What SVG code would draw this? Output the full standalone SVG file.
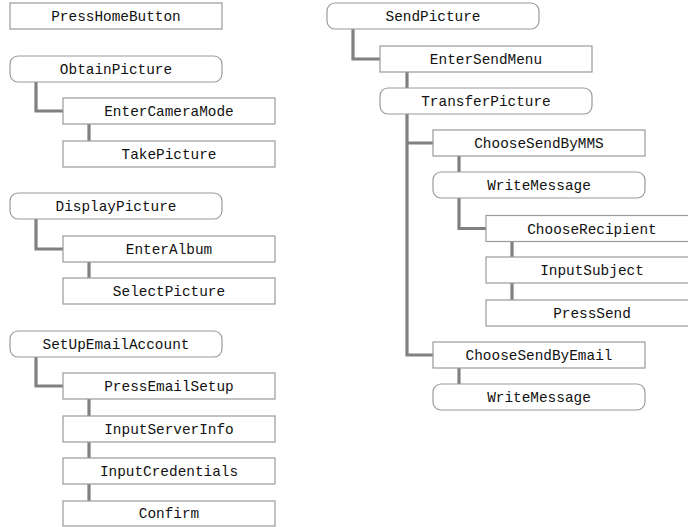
<svg xmlns="http://www.w3.org/2000/svg" width="688" height="527" viewBox="0 0 688 527">
<style>
.b{fill:#fff;stroke:#9a9a9a;stroke-width:1.2}
.t{font-family:"Courier New","Nimbus Mono PS","FreeMono","Liberation Mono","DejaVu Sans Mono",monospace;font-size:14.4px;fill:#111;text-anchor:middle}
.c{fill:none;stroke:#808080;stroke-width:3.2}
</style>
<rect width="688" height="527" fill="#fff"/>
<g id="connectors">
<path class="c" d="M36 82V111H63"/>
<path class="c" d="M89 124V141"/>
<path class="c" d="M36 219V249H63"/>
<path class="c" d="M89 262V278"/>
<path class="c" d="M36 357V386H63"/>
<path class="c" d="M89 399V416"/>
<path class="c" d="M89 442V458"/>
<path class="c" d="M89 484V501"/>
<path class="c" d="M353 29V59H380"/>
<path class="c" d="M407 72V88"/>
<path class="c" d="M407 114V355H433M407 143H433"/>
<path class="c" d="M459 156V172"/>
<path class="c" d="M459 198V228.5H486"/>
<path class="c" d="M512 241.5V257"/>
<path class="c" d="M512 283V300"/>
<path class="c" d="M459 368V384"/>
</g>
<g id="PressHomeButton"><rect class="b" x="10" y="3" width="212" height="26"/><text class="t" x="116" y="21">PressHomeButton</text></g>
<g id="ObtainPicture"><rect class="b" x="10" y="56" width="212" height="26" rx="8"/><text class="t" x="116" y="74">ObtainPicture</text></g>
<g id="EnterCameraMode"><rect class="b" x="63" y="98" width="212" height="26"/><text class="t" x="169" y="116">EnterCameraMode</text></g>
<g id="TakePicture"><rect class="b" x="63" y="141" width="212" height="26"/><text class="t" x="169" y="159">TakePicture</text></g>
<g id="DisplayPicture"><rect class="b" x="10" y="193" width="212" height="26" rx="8"/><text class="t" x="116" y="211">DisplayPicture</text></g>
<g id="EnterAlbum"><rect class="b" x="63" y="236" width="212" height="26"/><text class="t" x="169" y="254">EnterAlbum</text></g>
<g id="SelectPicture"><rect class="b" x="63" y="278" width="212" height="26"/><text class="t" x="169" y="296">SelectPicture</text></g>
<g id="SetUpEmailAccount"><rect class="b" x="10" y="331" width="212" height="26" rx="8"/><text class="t" x="116" y="349">SetUpEmailAccount</text></g>
<g id="PressEmailSetup"><rect class="b" x="63" y="373" width="212" height="26"/><text class="t" x="169" y="391">PressEmailSetup</text></g>
<g id="InputServerInfo"><rect class="b" x="63" y="416" width="212" height="26"/><text class="t" x="169" y="434">InputServerInfo</text></g>
<g id="InputCredentials"><rect class="b" x="63" y="458" width="212" height="26"/><text class="t" x="169" y="476">InputCredentials</text></g>
<g id="Confirm"><rect class="b" x="63" y="501" width="212" height="25"/><text class="t" x="169" y="518">Confirm</text></g>
<g id="SendPicture"><rect class="b" x="327" y="3" width="212" height="26" rx="8"/><text class="t" x="433" y="21">SendPicture</text></g>
<g id="EnterSendMenu"><rect class="b" x="380" y="46" width="212" height="26"/><text class="t" x="486" y="64">EnterSendMenu</text></g>
<g id="TransferPicture"><rect class="b" x="380" y="88" width="212" height="26" rx="8"/><text class="t" x="486" y="106">TransferPicture</text></g>
<g id="ChooseSendByMMS"><rect class="b" x="433" y="130" width="212" height="26"/><text class="t" x="539" y="148">ChooseSendByMMS</text></g>
<g id="WriteMessage1"><rect class="b" x="433" y="172" width="212" height="26" rx="8"/><text class="t" x="539" y="190">WriteMessage</text></g>
<g id="ChooseRecipient"><rect class="b" x="486" y="215.5" width="212" height="26"/><text class="t" x="592" y="233.5">ChooseRecipient</text></g>
<g id="InputSubject"><rect class="b" x="486" y="257" width="212" height="26"/><text class="t" x="592" y="275">InputSubject</text></g>
<g id="PressSend"><rect class="b" x="486" y="300" width="212" height="26"/><text class="t" x="592" y="318">PressSend</text></g>
<g id="ChooseSendByEmail"><rect class="b" x="433" y="342" width="212" height="26"/><text class="t" x="539" y="360">ChooseSendByEmail</text></g>
<g id="WriteMessage2"><rect class="b" x="433" y="384" width="212" height="26" rx="8"/><text class="t" x="539" y="402">WriteMessage</text></g>
</svg>
